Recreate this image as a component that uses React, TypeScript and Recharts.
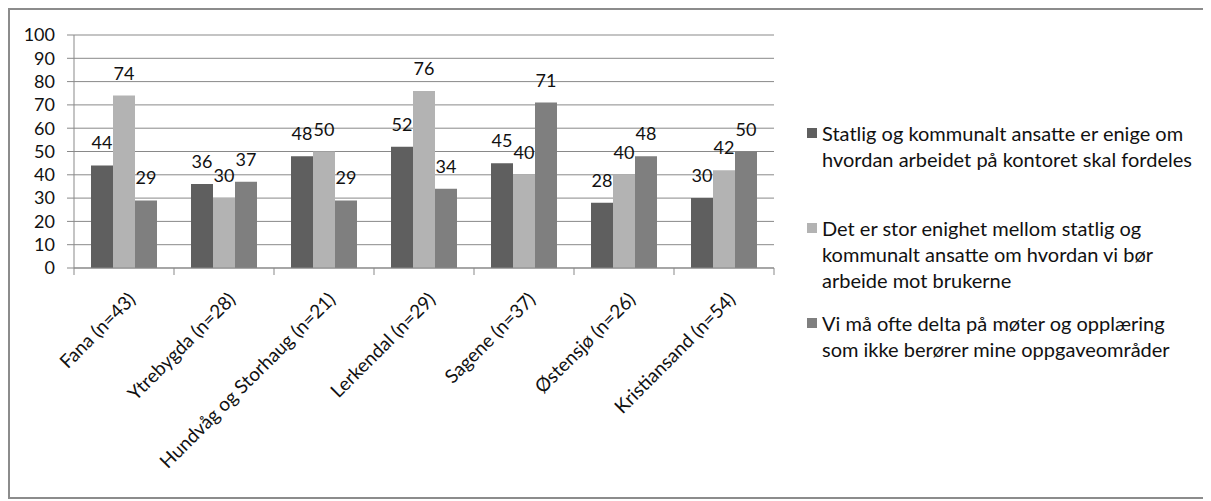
import React from 'react';
import {
  BarChart,
  Bar,
  XAxis,
  YAxis,
  CartesianGrid,
  Legend,
  LabelList,
} from 'recharts';

// Survey offices and the share (%) agreeing with each statement
const categories = [
  'Fana (n=43)',
  'Ytrebygda (n=28)',
  'Hundvåg og Storhaug (n=21)',
  'Lerkendal (n=29)',
  'Sagene (n=37)',
  'Østensjø (n=26)',
  'Kristiansand (n=54)',
];

const seriesNames = [
  'Statlig og kommunalt ansatte er enige om\nhvordan arbeidet på kontoret skal fordeles',
  'Det er stor enighet mellom statlig og\nkommunalt ansatte om hvordan vi bør\narbeide mot brukerne',
  'Vi må ofte delta på møter og opplæring\nsom ikke berører mine oppgaveområder',
];

const fordeling = [44, 36, 48, 52, 45, 28, 30];
const brukerne = [74, 30, 50, 76, 40, 40, 42];
const moter = [29, 37, 29, 34, 71, 48, 50];

const yTicks = [0, 10, 20, 30, 40, 50, 60, 70, 80, 90, 100];

const colors = ['#5f5f5f', '#b3b3b3', '#7f7f7f'];

const data = categories.map((name, i) => ({
  name,
  s0: fordeling[i],
  s1: brukerne[i],
  s2: moter[i],
}));

const CHART_W = 1197;
const CHART_H = 487;
const MARGIN = { top: 25, right: 433, bottom: 9, left: 4 };
const Y_AXIS_W = 60;
const PLOT_W = CHART_W - MARGIN.left - MARGIN.right - Y_AXIS_W;
const BAND = PLOT_W / categories.length;

const FONT = 'Lato, "Open Sans", sans-serif';
const TEXT = '#111111';
const GRID = '#898989';

const CategoryTick = (props: any) => {
  const { x, y, payload, index } = props;
  const half = BAND / 2;
  return (
    <g>
      <line x1={x - half} x2={x - half} y1={y} y2={y + 7} stroke={GRID} strokeWidth={1} />
      {index === categories.length - 1 && (
        <line x1={x + half} x2={x + half} y1={y} y2={y + 7} stroke={GRID} strokeWidth={1} />
      )}
      <g transform={`translate(${x + 3},${y + 23}) rotate(-45)`}>
        <text textAnchor="end" dy="0.72em" fill={TEXT} fontSize={19} fontFamily={FONT}>
          {payload.value}
        </text>
      </g>
    </g>
  );
};

const LegendContent = () => (
  <div style={{ fontFamily: FONT, fontSize: 20, color: TEXT }}>
    {seriesNames.map((name, i) => (
      <div key={i} style={{ display: 'flex', alignItems: 'flex-start', height: 95 }}>
        <div
          style={{
            width: 10,
            height: 10,
            background: colors[i],
            marginTop: 8,
            marginRight: 5,
            flex: 'none',
          }}
        />
        <div style={{ whiteSpace: 'pre-line', lineHeight: '26px' }}>{name}</div>
      </div>
    ))}
  </div>
);

export default function App() {
  return (
    <div
      style={{
        width: 1197,
        height: 487,
        border: '2px solid #8c8c8c',
        background: '#ffffff',
        fontFamily: FONT,
        position: 'relative',
      }}
    >
      <BarChart
        width={CHART_W}
        height={CHART_H}
        data={data}
        margin={MARGIN}
        barCategoryGap={17}
        barGap={0}
      >
        <CartesianGrid vertical={false} stroke={GRID} strokeWidth={1} />
        <XAxis
          dataKey="name"
          interval={0}
          height={220}
          tickSize={0}
          tickMargin={0}
          tickLine={false}
          axisLine={{ stroke: GRID }}
          tick={<CategoryTick />}
        />
        <YAxis
          width={Y_AXIS_W}
          domain={[0, 100]}
          ticks={yTicks}
          interval={0}
          tickSize={7}
          tickMargin={12}
          axisLine={{ stroke: GRID }}
          tickLine={{ stroke: GRID }}
          tick={{ fill: TEXT, fontSize: 18, fontFamily: FONT }}
        />
        <Legend
          layout="vertical"
          align="center"
          verticalAlign="middle"
          wrapperStyle={{ left: 797, top: 110, width: 398 }}
          content={<LegendContent />}
        />
        {['s0', 's1', 's2'].map((key, i) => (
          <Bar key={key} dataKey={key} name={seriesNames[i]} fill={colors[i]} isAnimationActive={false}>
            <LabelList
              dataKey={key}
              position="top"
              offset={16}
              fill={TEXT}
              fontSize={18}
              fontFamily={FONT}
            />
          </Bar>
        ))}
      </BarChart>
    </div>
  );
}
